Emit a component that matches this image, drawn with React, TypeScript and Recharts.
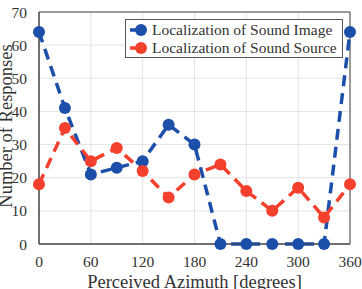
import { LineChart, Line, XAxis, YAxis, CartesianGrid, ReferenceArea } from 'recharts';

const azimuths = [0, 30, 60, 90, 120, 150, 180, 210, 240, 270, 300, 330, 360];
const soundImage = [64, 41, 21, 23, 25, 36, 30, 0, 0, 0, 0, 0, 64];
const soundSource = [18, 35, 25, 29, 22, 14, 21, 24, 16, 10, 17, 8, 18];
const seriesNames = ['Localization of Sound Image', 'Localization of Sound Source'];
const xTicks = [0, 60, 120, 180, 240, 300, 360];
const yTicks = [0, 10, 20, 30, 40, 50, 60, 70];

const BLUE = '#1c4fa9';
const RED = '#f4402d';
const FONT = "'Liberation Serif', 'Times New Roman', serif";

const data = azimuths.map((az, i) => ({ az, image: soundImage[i], source: soundSource[i] }));

const LegendBox = () => (
  <div
    style={{
      position: 'absolute',
      left: 125,
      top: 19,
      width: 216,
      height: 37,
      border: '1px solid #555',
      background: '#fff',
      fontFamily: FONT,
      fontSize: 15.5,
      color: '#333',
    }}
  >
    {seriesNames.map((name, i) => {
      const c = i === 0 ? BLUE : RED;
      return (
        <div key={name} style={{ position: 'absolute', left: 0, top: 1 + i * 18, height: 18, display: 'flex', alignItems: 'center', whiteSpace: 'nowrap' }}>
          <svg width={26} height={18}>
            <line x1={4} y1={9} x2={15} y2={9} stroke={c} strokeWidth={3.5} />
            <circle cx={15} cy={9} r={6} fill={c} />
          </svg>
          <span style={{ marginLeft: 0 }}>{name}</span>
        </div>
      );
    })}
  </div>
);

const App = () => {
  return (
    <div style={{ position: 'absolute', left: 0, top: 0, width: 362, height: 289, background: '#fff', fontFamily: FONT, overflow: 'hidden' }}>
      <LineChart width={362} height={289} data={data} margin={{ top: 12, right: 12, bottom: 15, left: 0 }} style={{ fontFamily: FONT }}>
        <CartesianGrid stroke="#e3e3e3" strokeWidth={1} />
        <XAxis
          dataKey="az"
          type="number"
          domain={[0, 360]}
          ticks={xTicks}
          height={30}
          tickLine={false}
          axisLine={{ stroke: '#444' }}
          tick={{ fill: '#333', fontSize: 15.5, fontFamily: FONT }}
          tickMargin={6}
          label={{
            value: 'Perceived Azimuth [degrees]',
            position: 'insideBottom',
            offset: -14,
            fill: '#333',
            fontSize: 18.5,
            fontFamily: FONT,
          }}
        />
        <YAxis
          type="number"
          domain={[0, 70]}
          ticks={yTicks}
          width={39}
          tickLine={false}
          axisLine={{ stroke: '#444' }}
          tick={{ fill: '#333', fontSize: 15.5, fontFamily: FONT }}
          tickMargin={6}
        />
        <ReferenceArea x1={0} x2={360} y1={0} y2={70} fill="none" stroke="#444" strokeWidth={1} ifOverflow="visible" />
        <Line
          dataKey="image"
          name={seriesNames[0]}
          stroke={BLUE}
          strokeWidth={3.5}
          strokeDasharray="11 7"
          dot={{ r: 6, fill: BLUE, stroke: BLUE, strokeWidth: 0, strokeDasharray: '' }}
          isAnimationActive={false}
        />
        <Line
          dataKey="source"
          name={seriesNames[1]}
          stroke={RED}
          strokeWidth={3.5}
          strokeDasharray="11 7"
          dot={{ r: 6, fill: RED, stroke: RED, strokeWidth: 0, strokeDasharray: '' }}
          isAnimationActive={false}
        />
      </LineChart>
      {/* y-axis title, rotated and centred on the plot area */}
      <svg width={24} height={289} style={{ position: 'absolute', left: 0, top: 0 }}>
        <text x={12} y={126} transform="rotate(-90 12 126)" textAnchor="middle" fill="#333" fontSize={18.5} fontFamily={FONT}>
          Number of Responses
        </text>
      </svg>
      <LegendBox />
    </div>
  );
};

export default App;
